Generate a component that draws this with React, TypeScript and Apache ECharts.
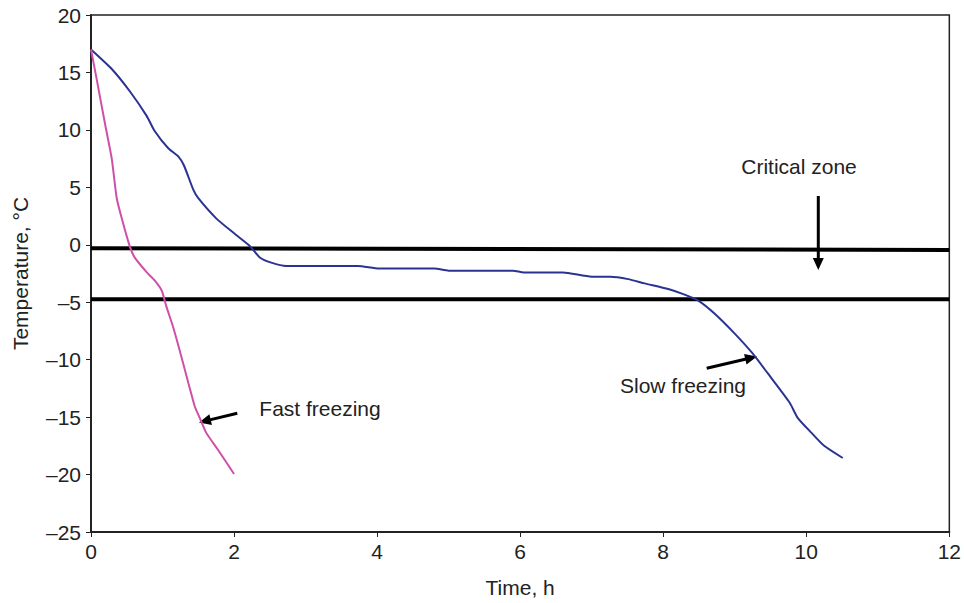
import React, { useEffect, useRef } from "react";
import * as echarts from "echarts";

const slowTime = [0, 0.29, 0.55, 0.78, 0.89, 1.08, 1.22, 1.3, 1.43, 1.5, 1.75, 2.0, 2.22, 2.36, 2.52, 2.73, 3.2, 3.73, 4.03, 4.8, 5.0, 5.9, 6.05, 6.6, 7.0, 7.26, 7.51, 7.74, 8.07, 8.3, 8.49, 8.72, 9.0, 9.25, 9.46, 9.77, 9.88, 10.07, 10.25, 10.51];
const slowTemp = [17, 15.3, 13.3, 11.2, 9.9, 8.4, 7.7, 6.9, 4.8, 4.05, 2.3, 1.0, -0.1, -1.1, -1.55, -1.84, -1.84, -1.84, -2.07, -2.07, -2.25, -2.25, -2.41, -2.41, -2.78, -2.78, -2.99, -3.36, -3.85, -4.34, -4.86, -6.0, -7.73, -9.46, -11.18, -13.77, -15.06, -16.35, -17.5, -18.56];

const fastTime = [0, 0.08, 0.2, 0.29, 0.36, 0.43, 0.54, 0.61, 0.78, 0.89, 0.99, 1.05, 1.15, 1.24, 1.36, 1.45, 1.52, 1.61, 1.77, 2.0];
const fastTemp = [17, 14.4, 10.4, 7.5, 4.05, 2.3, -0.1, -1.1, -2.4, -3.1, -4.0, -5.3, -7.2, -9.2, -12.0, -14.05, -15.06, -16.35, -17.8, -19.95];

const upperLimitTime = [0, 12];
const upperLimitTemp = [-0.3, -0.45];
const lowerLimitTime = [0, 12];
const lowerLimitTemp = [-4.75, -4.75];

const xTicks = { min: 0, max: 12, interval: 2 };
const yTicks = { min: -25, max: 20, interval: 5 };

const pairs = (xs: number[], ys: number[]) => xs.map((x, i) => [x, ys[i]]);

const FONT = "'Liberation Sans', Arial, sans-serif";
const TXT = "#222";
const FS = 21;

function arrow(x1: number, y1: number, x2: number, y2: number) {
  const dx = x2 - x1, dy = y2 - y1;
  const len = Math.sqrt(dx * dx + dy * dy);
  const ux = dx / len, uy = dy / len;
  const hl = 12, hw = 5.5;
  const bx = x2 - ux * hl, by = y2 - uy * hl;
  const px = -uy, py = ux;
  return [
    { type: "line", shape: { x1, y1, x2: bx + ux * 2, y2: by + uy * 2 }, style: { stroke: "#000", lineWidth: 3 } },
    {
      type: "polygon",
      shape: { points: [[x2, y2], [bx + px * hw, by + py * hw], [bx - px * hw, by - py * hw]] },
      style: { fill: "#000" },
    },
  ];
}

export default function App() {
  const ref = useRef<HTMLDivElement>(null);
  useEffect(() => {
    if (!ref.current) return;
    const chart = echarts.init(ref.current, null, { renderer: "svg" });
    const dash = (v: number) => String(v).replace("-", "\u2013");
    const limitStyle = { color: "#000", width: 4 };
    chart.setOption({
      animation: false,
      backgroundColor: "#fff",
      grid: { left: 91, right: 12, top: 15, bottom: 66, show: true, borderColor: "#222", borderWidth: 1.5 },
      xAxis: {
        type: "value",
        min: xTicks.min,
        max: xTicks.max,
        interval: xTicks.interval,
        name: "Time, h",
        nameLocation: "middle",
        nameGap: 45,
        nameTextStyle: { fontFamily: FONT, fontSize: FS, color: TXT },
        axisLine: { onZero: false, lineStyle: { color: "#222", width: 2 } },
        axisTick: { show: true, length: 5, lineStyle: { color: "#222" } },
        axisLabel: { fontFamily: FONT, fontSize: FS, color: TXT, margin: 9, formatter: dash },
        splitLine: { show: false },
      },
      yAxis: {
        type: "value",
        min: yTicks.min,
        max: yTicks.max,
        interval: yTicks.interval,
        name: "Temperature, \u00b0C",
        nameLocation: "middle",
        nameGap: 60,
        nameTextStyle: { fontFamily: FONT, fontSize: FS, color: TXT },
        axisLine: { onZero: false, lineStyle: { color: "#222", width: 2 } },
        axisTick: { show: true, length: 5, lineStyle: { color: "#222" } },
        axisLabel: { fontFamily: FONT, fontSize: FS, color: TXT, margin: 10, formatter: dash },
        splitLine: { show: false },
      },
      series: [
        { type: "line", data: pairs(upperLimitTime, upperLimitTemp), symbol: "none", lineStyle: limitStyle, z: 1 },
        { type: "line", data: pairs(lowerLimitTime, lowerLimitTemp), symbol: "none", lineStyle: limitStyle, z: 1 },
        { type: "line", name: "Slow freezing", data: pairs(slowTime, slowTemp), symbol: "none", smooth: 0.2, lineStyle: { color: "#2a3393", width: 2 }, z: 3 },
        { type: "line", name: "Fast freezing", data: pairs(fastTime, fastTemp), symbol: "none", smooth: 0.2, lineStyle: { color: "#cf50a8", width: 2 }, z: 3 },
      ],
      graphic: [
        { type: "text", x: 799, y: 166, style: { text: "Critical zone", font: `${FS}px ${FONT}`, fill: TXT, align: "center", verticalAlign: "middle" } },
        { type: "text", x: 320, y: 408, style: { text: "Fast freezing", font: `${FS}px ${FONT}`, fill: TXT, align: "center", verticalAlign: "middle" } },
        { type: "text", x: 683, y: 385, style: { text: "Slow freezing", font: `${FS}px ${FONT}`, fill: TXT, align: "center", verticalAlign: "middle" } },
        ...arrow(818.3, 196, 818.3, 270),
        ...arrow(237.3, 413.3, 199, 422.5),
        ...arrow(706.7, 368.3, 757, 356.5),
      ],
    });
    return () => chart.dispose();
  }, []);
  return <div ref={ref} style={{ width: 964, height: 603, position: "absolute", left: 0, top: 0 }} />;
}
